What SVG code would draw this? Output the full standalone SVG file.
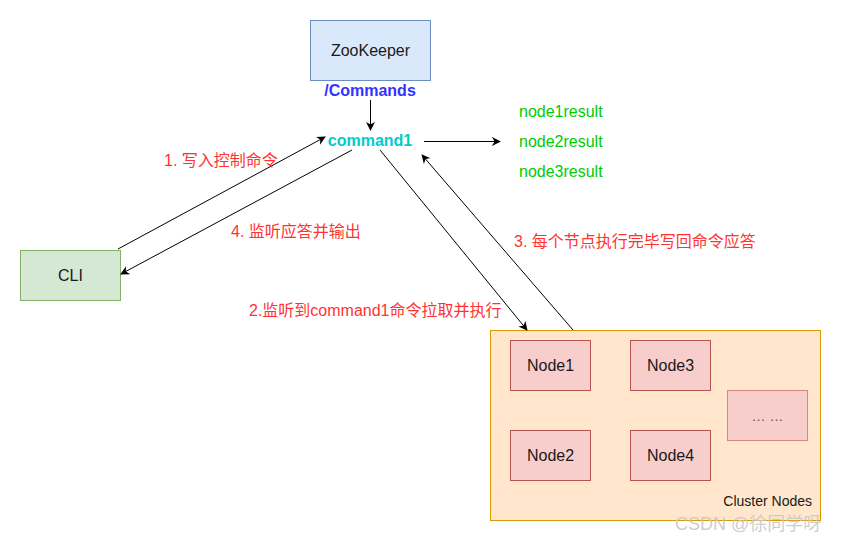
<svg xmlns="http://www.w3.org/2000/svg" width="841" height="541" viewBox="0 0 841 541">
<style>
text{font-family:"Liberation Sans","Noto Sans CJK SC",Arial,sans-serif}
.lbl{font-size:16px;fill:#FF3333}
.res{font-size:16px;fill:#00CC00}
.node{fill:#f8cecc;stroke:#b85450;stroke-width:1}
.nt{font-size:16px;fill:#1a1a1a;text-anchor:middle}
.c{stroke:#000;stroke-width:1;fill:none;marker-end:url(#ah)}
</style>
<defs>
<marker id="ah" viewBox="0 0 10 10" refX="9" refY="5" markerWidth="9" markerHeight="9" markerUnits="userSpaceOnUse" orient="auto">
<path d="M0,0 L10,5 L0,10 L3,5 Z" fill="#000"/>
</marker>
</defs>
<rect width="841" height="541" fill="#fff"/>
<g id="cluster">
<rect x="490.5" y="330.5" width="330" height="190" fill="#ffe6cc" stroke="#d79b00"/>
<text x="812" y="506" font-size="14" fill="#1a1a1a" text-anchor="end">Cluster Nodes</text>
</g>
<g id="zookeeper">
<rect x="310.5" y="20.5" width="120" height="60" fill="#dae8fc" stroke="#6c8ebf"/>
<text x="370.5" y="56" class="nt">ZooKeeper</text>
</g>
<g id="commands">
<text x="370" y="96" font-size="16" font-weight="bold" fill="#3333FF" text-anchor="middle">/Commands</text>
</g>
<g id="command1">
<text x="370" y="146" font-size="16" font-weight="bold" fill="#00CCCC" text-anchor="middle">command1</text>
</g>
<g id="results">
<text class="res" x="519" y="117">node1result</text>
<text class="res" x="519" y="147">node2result</text>
<text class="res" x="519" y="177">node3result</text>
</g>
<g id="cli">
<rect x="20.5" y="250.5" width="100" height="50" fill="#d5e8d4" stroke="#82b366"/>
<text x="70.5" y="281" class="nt">CLI</text>
</g>
<g id="node1"><rect class="node" x="510.5" y="340.5" width="80" height="50"/><text class="nt" x="550.5" y="371">Node1</text></g>
<g id="node3"><rect class="node" x="630.5" y="340.5" width="80" height="50"/><text class="nt" x="670.5" y="371">Node3</text></g>
<g id="node2"><rect class="node" x="510.5" y="430.5" width="80" height="50"/><text class="nt" x="550.5" y="461">Node2</text></g>
<g id="node4"><rect class="node" x="630.5" y="430.5" width="80" height="50"/><text class="nt" x="670.5" y="461">Node4</text></g>
<g id="more"><rect x="727.5" y="390.5" width="80" height="50" fill="#f8cecc" stroke="#b85450" stroke-opacity="0.6"/><text x="767.5" y="421" font-size="14" fill="#555" text-anchor="middle">… …</text></g>
<g id="connectors">
<line class="c" x1="370.5" y1="100" x2="370.5" y2="130"/>
<line class="c" x1="424" y1="141.5" x2="500" y2="141.5"/>
<line class="c" x1="118" y1="249" x2="325" y2="137"/>
<line class="c" x1="352" y1="150" x2="121" y2="274"/>
<line class="c" x1="380" y1="150" x2="527" y2="330"/>
<line class="c" x1="573" y1="330" x2="422" y2="155"/>
</g>
<g id="labels">
<text class="lbl" x="164" y="166">1. 写入控制命令</text>
<text class="lbl" x="231" y="237">4. 监听应答并输出</text>
<text class="lbl" x="249" y="316">2.监听到command1命令拉取并执行</text>
<text class="lbl" x="514" y="247">3. 每个节点执行完毕写回命令应答</text>
</g>
<text x="675" y="530" font-size="18" fill="#c8c8c8" fill-opacity="0.9">CSDN @徐同学呀</text>
</svg>
